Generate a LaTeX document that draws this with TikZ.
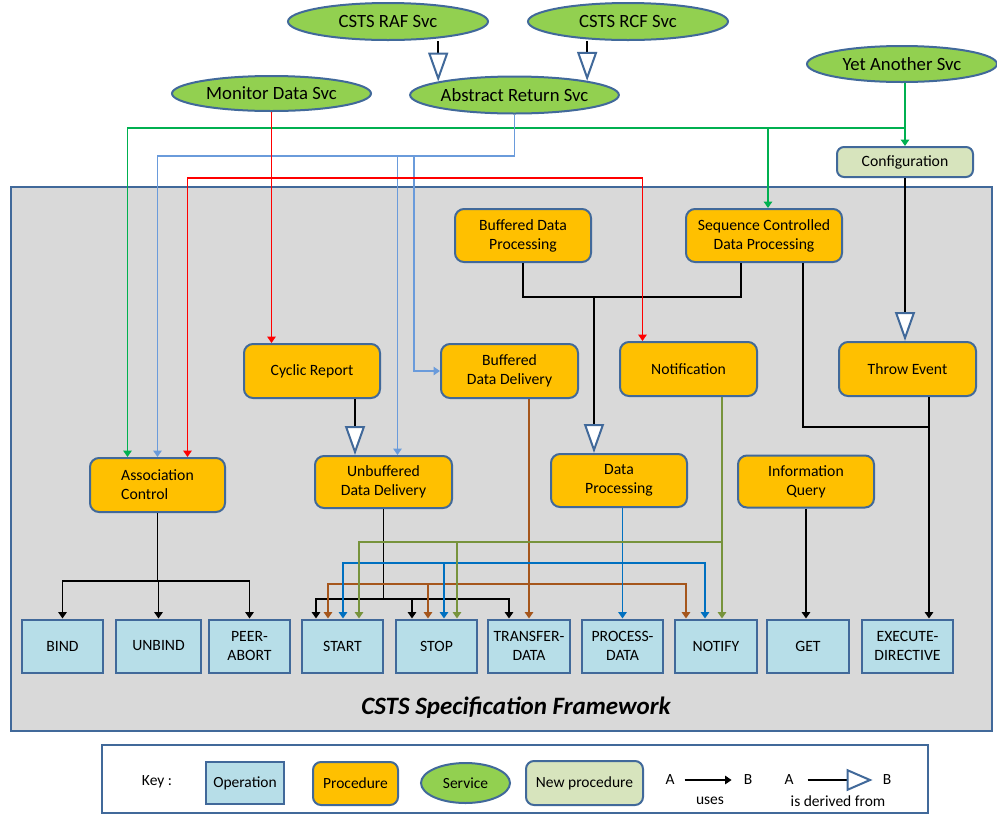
\documentclass[tikz,border=0pt]{standalone}
\usepackage{fontspec}
\setmainfont{Carlito}
\usetikzlibrary{arrows.meta,shapes.geometric,calc}
\definecolor{bdr}{HTML}{41699A}
\definecolor{procf}{HTML}{FFC000}
\definecolor{opf}{HTML}{B7DEE8}
\definecolor{svcf}{HTML}{92D050}
\definecolor{npf}{HTML}{D7E4BD}
\definecolor{fwf}{HTML}{D9D9D9}
\definecolor{lblue}{HTML}{6A9BDB}
\definecolor{gline}{HTML}{00B050}
\definecolor{rline}{HTML}{FF0000}
\definecolor{brline}{HTML}{A5561C}
\definecolor{bline}{HTML}{0070C0}
\definecolor{oline}{HTML}{77933C}
\tikzset{
  lbl/.style={font=\fontsize{15.7}{19}\selectfont, align=center, inner sep=0pt},
  proc/.style={lbl, draw=bdr, fill=procf, line width=2pt, rounded corners=9pt, minimum width=136pt, minimum height=54pt},
  newproc/.style={proc, fill=npf},
  oper/.style={lbl, draw=bdr, fill=opf, line width=2pt, minimum width=81pt, minimum height=53pt},
  svc/.style={lbl, font=\fontsize{18.7}{22}\selectfont, ellipse, draw=bdr, fill=svcf, line width=2pt, minimum width=199pt, minimum height=37pt},
  uses/.style={-{Triangle[length=6.5pt,width=8.5pt]}},
  derive/.style={black, line width=2pt, -{Triangle[length=29pt,width=20pt,fill=white,color=bdr,line width=2pt]}},
  blk/.style={black, line width=1.8pt},
  redl/.style={rline, line width=1.5pt},
  grl/.style={gline, line width=1.5pt},
  lbl2/.style={lblue, line width=1.5pt},
  brl/.style={brline, line width=1.5pt},
  bll/.style={bline, line width=1.5pt},
  oll/.style={oline, line width=1.5pt},
  keytxt/.style={font=\fontsize{15.5}{18}\selectfont, inner sep=0pt}
}
\begin{document}
\begin{tikzpicture}[x=1pt,y=-1pt]
\useasboundingbox (0,0) rectangle (997,815);
% framework background
\node[draw=bdr, fill=fwf, line width=2pt, minimum width=981pt, minimum height=544pt, inner sep=0pt] (fw) at (501.5,459) {};
\node[font=\bfseries\itshape\fontsize{25}{29}\selectfont, inner sep=0pt] (title) at (516,708) {CSTS Specification Framework};

% services
\node[svc, minimum width=200pt] (raf) at (388,21.5) {CSTS RAF Svc};
\node[svc, minimum width=200pt] (rcf) at (628,21.5) {CSTS RCF Svc};
\node[svc, minimum height=35pt] (mon) at (271.5,93.5) {Monitor Data Svc};
\node[svc] (ars) at (514.5,95) {Abstract Return Svc};
\node[svc, minimum width=190pt, minimum height=36pt] (yas) at (902,64) {Yet Another Svc};
\node[newproc, minimum height=30pt, rounded corners=7pt] (conf) at (905,162) {Configuration};

% procedures
\node[proc, minimum height=53pt] (bdp) at (523,235.5) {Buffered Data\\Processing};
\node[proc, minimum width=156pt, minimum height=53pt] (scdp) at (764,235.5) {Sequence Controlled\\Data Processing};
\node[proc] (cyc) at (312,371) {Cyclic Report};
\node[proc, minimum width=137pt] (bdd) at (509.5,371) {Buffered\\Data Delivery};
\node[proc, minimum width=137pt] (notif) at (688.5,369) {Notification};
\node[proc, minimum width=137pt] (throw) at (907.5,369) {Throw Event};
\node[proc, minimum width=135pt, align=left] (ac) at (157.5,485) {Association\\Control};
\node[proc, minimum width=137pt, minimum height=52pt] (ubdd) at (383.5,482) {Unbuffered\\Data Delivery};
\node[proc, minimum height=53pt] (dp) at (619,480.5) {Data\\Processing};
\node[proc, minimum height=52pt] (iq) at (806,481.5) {Information\\Query};

% operations
\node[oper] (bind) at (62.5,646) {BIND};
\node[oper, minimum width=85pt] (unbind) at (158.5,646) {UNBIND};
\node[oper] (pabort) at (249.5,646) {PEER-\\ABORT};
\node[oper] (start) at (342.5,646) {START};
\node[oper] (stop) at (436.5,646) {STOP};
\node[oper, minimum width=82pt] (tdata) at (529,646) {TRANSFER-\\DATA};
\node[oper] (pdata) at (622.5,646) {PROCESS-\\DATA};
\node[oper, minimum width=82pt] (notify) at (716,646) {NOTIFY};
\node[oper, minimum width=82pt] (get) at (808,646) {GET};
\node[oper, minimum width=91pt] (exec) at (907.5,646) {EXECUTE-\\DIRECTIVE};

% bus levels
\coordinate (busG) at (0,128);
\coordinate (busB) at (0,156);
\coordinate (busR) at (0,178);
\coordinate (busD) at (0,297);
\coordinate (busE) at (0,427);
\coordinate (busO) at (0,542);
\coordinate (busBl) at (0,563);
\coordinate (busBr) at (0,584);
\coordinate (busA) at (0,581);
\coordinate (busU) at (0,599);

% derivations
\draw[derive] (ars.170 |- raf.south) -- (ars.170);
\draw[derive] (ars.11 |- rcf.south) -- (ars.11);
\draw[derive] ([xshift=43pt]cyc.south) -- ([xshift=43pt]cyc.south |- ubdd.north);
\draw[blk, line width=2pt] (bdp.south) |- ([xshift=-23pt]scdp.south |- busD) -- ([xshift=-23pt]scdp.south);
\draw[derive] ([xshift=-25pt]dp.north |- busD) -- ([xshift=-25pt]dp.north);
\draw[derive] (conf.south) -- (conf.south |- throw.north);

% green (Yet Another Svc)
\draw[grl, uses] (conf.north |- yas.south) -- (conf.north);
\draw[grl, uses] (conf.north |- busG) -| ([xshift=-30pt]ac.north);
\draw[grl, uses] ([xshift=4pt]scdp.north |- busG) -- ([xshift=4pt]scdp.north);

% light blue (Abstract Return Svc)
\draw[lbl2, uses] (ars.south) |- (ac.north |- busB) -- (ac.north);
\draw[lbl2, uses] ([xshift=14pt]ubdd.north |- busB) -- ([xshift=14pt]ubdd.north);
\draw[lbl2, uses] ([xshift=-26pt]bdd.west |- busB) |- (bdd.west);

% red (Monitor Data Svc)
\draw[redl, uses] (mon.south) -- (mon.south |- cyc.north);
\draw[redl, uses] (mon.south |- busR) -| ([xshift=30pt]ac.north);
\draw[redl, uses] (mon.south |- busR) -| ([xshift=-46pt]notif.north);

% Association Control
\draw[blk] (ac.south) -- (ac.south |- busA);
\draw[blk, uses] (ac.south |- busA) -| (bind.north);
\draw[blk, uses] (ac.south |- busA) -| (pabort.north);
\draw[blk, uses] (unbind.north |- busA) -- (unbind.north);

% Unbuffered Data Delivery
\draw[blk] (ubdd.south) -- (ubdd.south |- busU);
\draw[blk, uses] (ubdd.south |- busU) -| ([xshift=-26.5pt]start.north);
\draw[blk, uses] (ubdd.south |- busU) -| ([xshift=-20pt]tdata.north);
\draw[blk, uses] ([xshift=-24.5pt]stop.north |- busU) -- ([xshift=-24.5pt]stop.north);

% Buffered Data Delivery (brown)
\draw[brl, uses] (tdata.north |- bdd.south) -- (tdata.north);
\draw[brl, uses] (tdata.north |- busBr) -| ([xshift=-14.5pt]start.north);
\draw[brl, uses] (tdata.north |- busBr) -| ([xshift=-30pt]notify.north);
\draw[brl, uses] ([xshift=-8.5pt]stop.north |- busBr) -- ([xshift=-8.5pt]stop.north);

% Data Processing (blue)
\draw[bll, uses] (pdata.north |- dp.south) -- (pdata.north);
\draw[bll, uses] (pdata.north |- busBl) -| ([xshift=0.5pt]start.north);
\draw[bll, uses] (pdata.north |- busBl) -| ([xshift=-11pt]notify.north);
\draw[bll, uses] ([xshift=7.5pt]stop.north |- busBl) -- ([xshift=7.5pt]stop.north);

% Notification (olive)
\draw[oll, uses] ([xshift=6pt]notify.north |- notif.south) -- ([xshift=6pt]notify.north);
\draw[oll, uses] ([xshift=6pt]notify.north |- busO) -| ([xshift=16.5pt]start.north);
\draw[oll, uses] ([xshift=20.5pt]stop.north |- busO) -- ([xshift=20.5pt]stop.north);

% Information Query, Throw Event, SCDP
\draw[blk, uses] (iq.south) -- (iq.south |- get.north);
\draw[blk, uses] ([xshift=21.5pt]throw.south) -- ([xshift=21.5pt]throw.south |- exec.north);
\draw[blk] ([xshift=39pt]scdp.south) |- ([xshift=21.5pt]throw.south |- busE);

% key
\node[draw=bdr, fill=white, line width=2pt, minimum width=826pt, minimum height=68pt, inner sep=0pt] (keyb) at (515,779) {};
\node[keytxt] (keyl) at (157,782) {Key :};
\node[oper, keytxt, draw=bdr, minimum width=78pt, minimum height=42pt] (kop) at (245,783) {Operation};
\node[proc, keytxt, draw=bdr, minimum width=85pt, minimum height=43pt, rounded corners=8pt] (kproc) at (355.5,783.5) {Procedure};
\node[svc, keytxt, draw=bdr, minimum width=89pt, minimum height=40pt] (ksvc) at (465.5,783) {Service};
\node[newproc, keytxt, draw=bdr, minimum width=117pt, minimum height=44pt, rounded corners=8pt] (knp) at (584.5,783) {New procedure};
\node[keytxt] (ka1) at (670,780) {A};
\node[keytxt] (kb1) at (748,780) {B};
\node[keytxt] (kuse) at (710,801) {uses};
\draw[black, line width=1.2pt, uses, shorten <=10pt, shorten >=12pt] (ka1) -- (kb1);
\node[keytxt] (ka2) at (789,780) {A};
\node[keytxt] (kb2) at (887,780) {B};
\node[keytxt] (kder) at (838,801) {is derived from};
\draw[black, line width=1.2pt, -{Triangle[length=26pt,width=22pt,fill=white,color=bdr,line width=2pt]}, shorten <=14pt, shorten >=10pt] (ka2) -- (kb2);
\end{tikzpicture}
\end{document}
